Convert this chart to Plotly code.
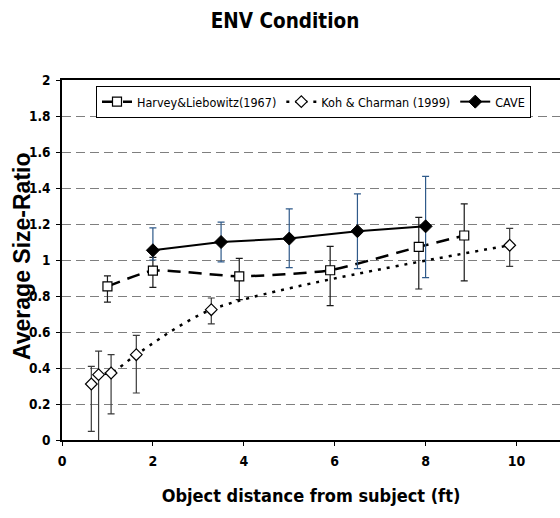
import plotly.graph_objects as go

# ---- data ----
hl_x = [1.0, 2.0, 3.9, 5.9, 7.85, 8.85]
hl_y = [0.853, 0.941, 0.909, 0.943, 1.073, 1.136]
hl_hi = [0.912, 1.015, 1.009, 1.076, 1.237, 1.312]
hl_lo = [0.766, 0.848, 0.780, 0.747, 0.839, 0.884]

kc_x = [0.645, 0.805, 1.08, 1.635, 3.285, 9.85]
kc_y = [0.311, 0.363, 0.372, 0.474, 0.724, 1.082]
kc_hi = [0.409, 0.494, 0.474, 0.581, 0.789, 1.176]
kc_lo = [0.048, -0.03, 0.145, 0.261, 0.645, 0.965]

cave_x = [2.0, 3.5, 5.0, 6.5, 8.0]
cave_y = [1.054, 1.100, 1.119, 1.160, 1.187]
cave_hi = [1.178, 1.210, 1.284, 1.367, 1.465]
cave_lo = [1.000, 0.990, 0.958, 0.952, 0.902]

names = ["Harvey&Liebowitz(1967)", "Koh & Charman (1999)", "CAVE"]
title = "ENV Condition"
x_title = "Object distance from subject (ft)"
y_title = "Average Size-Ratio"

NARROW = "DejaVu Sans Condensed, Liberation Sans, Arial, sans-serif"
WIDE = "Liberation Sans, Arial, sans-serif"


def err(y, hi, lo, color):
    return dict(type="data", symmetric=False,
                array=[h - v for h, v in zip(hi, y)],
                arrayminus=[v - l for v, l in zip(y, lo)],
                color=color, thickness=1.2, width=3.5)


fig = go.Figure()
fig.add_trace(go.Scatter(
    x=hl_x, y=hl_y, name=names[0], mode="lines+markers",
    line=dict(color="black", width=2.5, dash="13px,8px", shape="spline", smoothing=0.5),
    marker=dict(symbol="square", size=9, color="white", line=dict(color="black", width=1.2)),
    error_y=err(hl_y, hl_hi, hl_lo, "#1a1a1a"),
))
fig.add_trace(go.Scatter(
    x=kc_x, y=kc_y, name=names[1], mode="lines+markers",
    line=dict(color="black", width=2.5, dash="3px,6px", shape="spline", smoothing=0.8),
    marker=dict(symbol="diamond", size=9, color="white", line=dict(color="black", width=1.2)),
    error_y=err(kc_y, kc_hi, kc_lo, "#3a3a3a"),
))
fig.add_trace(go.Scatter(
    x=cave_x, y=cave_y, name=names[2], mode="lines+markers",
    line=dict(color="black", width=2),
    marker=dict(symbol="diamond", size=10, color="black", line=dict(color="black", width=1)),
    error_y=err(cave_y, cave_hi, cave_lo, "#2f5a8a"),
))

fig.update_layout(
    width=560, height=518,
    margin=dict(l=62, r=0, t=80, b=78),
    paper_bgcolor="white", plot_bgcolor="white",
    title=dict(text=title, x=285 / 560, xref="container", xanchor="center",
               y=1 - 21 / 518, yref="container", yanchor="middle",
               font=dict(family=NARROW, size=20.5, color="black", weight="bold")),
    showlegend=True,
    legend=dict(orientation="h", x=(96 - 62) / 498, xanchor="left",
                y=1 - 6 / 360, yanchor="top",
                bgcolor="white", bordercolor="black", borderwidth=1,
                font=dict(family=NARROW, size=12.5, color="black"),
                itemwidth=30, tracegroupgap=0),
    font=dict(family=NARROW, color="black"),
    annotations=[dict(text=y_title, textangle=-90, xref="paper", yref="paper",
                      x=(22 - 62) / 498, y=(440 - 256) / 360,
                      xanchor="center", yanchor="middle", showarrow=False,
                      font=dict(family=WIDE, size=23, color="black", weight="bold"))],
)
fig.update_xaxes(
    range=[0, 498 / 45.45], dtick=2, tick0=0, showgrid=False, zeroline=False,
    showline=True, linecolor="black", linewidth=1.5, mirror=True,
    ticks="outside", ticklen=4, tickcolor="black", ticklabelstandoff=3,
    tickfont=dict(family=NARROW, size=14, color="black", weight="bold"),
    title=dict(text=x_title, standoff=22,
               font=dict(family=NARROW, size=18, color="black", weight="bold")),
)
fig.update_yaxes(
    range=[0, 2], dtick=0.2, tick0=0, showgrid=True, gridcolor="#7f7f7f",
    griddash="9px,5px", gridwidth=1, zeroline=False,
    showline=True, linecolor="black", linewidth=1.5, mirror=False,
    ticks="outside", ticklen=4, tickcolor="black", ticklabelstandoff=3,
    tickfont=dict(family=NARROW, size=13.5, color="black", weight="bold"),
)

fig.write_html("out.html")
